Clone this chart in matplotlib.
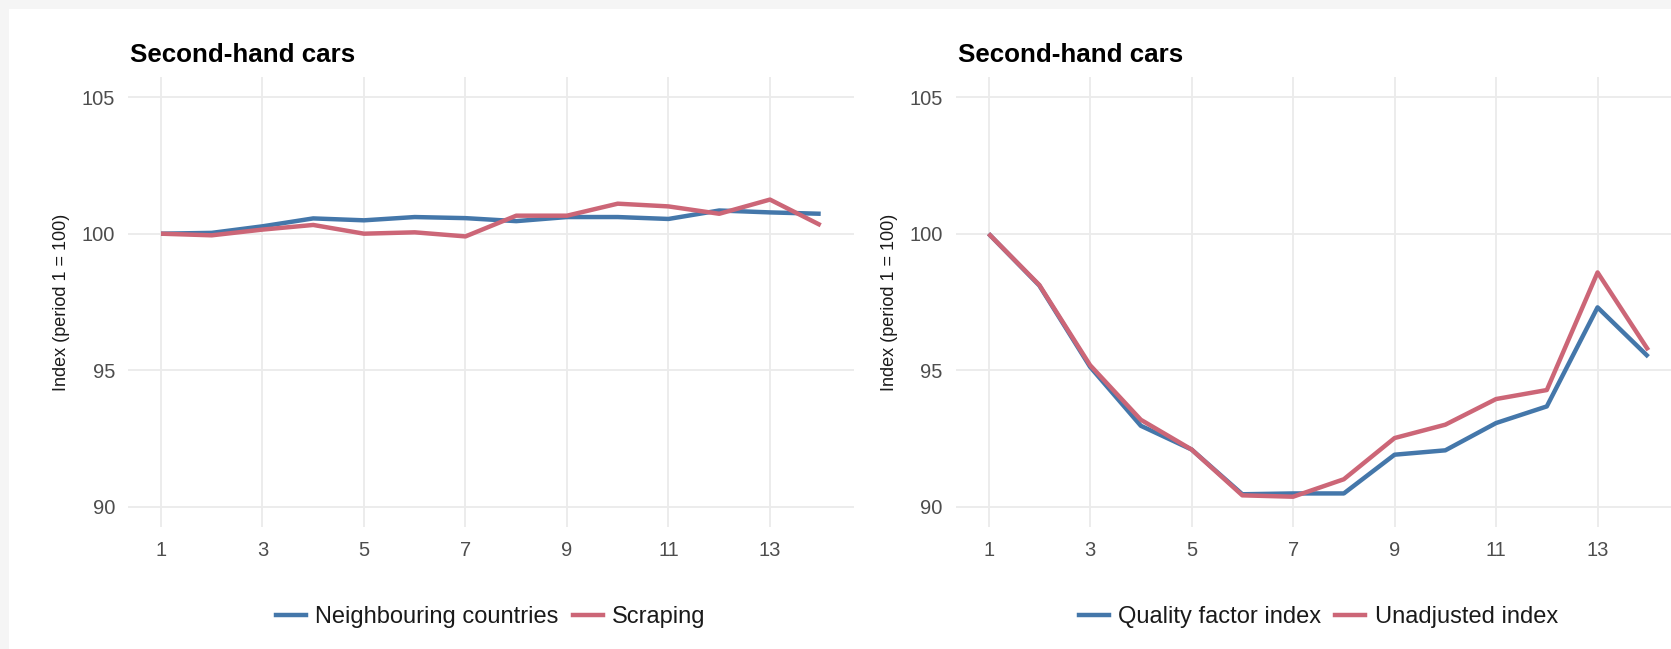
import matplotlib
matplotlib.use("Agg")
import matplotlib.pyplot as plt
from matplotlib.patches import Rectangle
from matplotlib.lines import Line2D

plt.rcParams['font.family'] = ['Liberation Sans', 'DejaVu Sans']

# ---------------- data ----------------
periods = list(range(1, 15))
x_ticks = [1, 3, 5, 7, 9, 11, 13]
y_ticks = [90, 95, 100, 105]

neighbouring = [100.0, 100.03, 100.27, 100.56, 100.49, 100.61, 100.57,
                100.46, 100.61, 100.61, 100.54, 100.85, 100.78, 100.73]
scraping = [100.0, 99.94, 100.15, 100.32, 100.0, 100.05, 99.90,
            100.66, 100.66, 101.10, 101.00, 100.73, 101.25, 100.31]

quality_factor = [100.0, 98.1, 95.12, 92.96, 92.09, 90.45, 90.48,
                  90.48, 91.9, 92.06, 93.06, 93.67, 97.3, 95.49]
unadjusted = [100.0, 98.12, 95.18, 93.18, 92.09, 90.41, 90.36,
              91.0, 92.51, 93.0, 93.94, 94.27, 98.58, 95.73]

title_text = "Second-hand cars"
ylabel_text = "Index (period 1 = 100)"

BLUE = "#4477AA"
RED = "#CC6677"
GRID = "#EBEBEB"

W, H = 1671, 649
fig = plt.figure(figsize=(W / 100, H / 100), dpi=100)
fig.patch.set_facecolor("white")

# light grey frame strips (top and left)
fig.patches.append(Rectangle((0, 1 - 9 / H), 1, 9 / H, transform=fig.transFigure,
                             facecolor="#F5F5F5", edgecolor="none", zorder=0))
fig.patches.append(Rectangle((0, 0), 9 / W, 1, transform=fig.transFigure,
                             facecolor="#F5F5F5", edgecolor="none", zorder=0))

ax_w = 725.7 / W
ax_h = 450.2 / H
ax_b = 122 / H
lefts = [128 / W, 955.6 / W]

panels = [
    (neighbouring, scraping, "Neighbouring countries", "Scraping"),
    (quality_factor, unadjusted, "Quality factor index", "Unadjusted index"),
]

for left, (s1, s2, n1, n2) in zip(lefts, panels):
    ax = fig.add_axes([left, ax_b, ax_w, ax_h])
    ax.set_facecolor("none")
    ax.plot(periods, s1, color=BLUE, lw=3.2, solid_capstyle="butt", zorder=3)
    ax.plot(periods, s2, color=RED, lw=3.2, solid_capstyle="butt", zorder=4)
    ax.set_xlim(0.35, 14.65)
    ax.set_ylim(89.25, 105.75)
    ax.set_xticks(x_ticks)
    ax.set_yticks(y_ticks)
    ax.grid(True, color=GRID, lw=1.3, zorder=0)
    ax.set_axisbelow(True)
    for sp in ax.spines.values():
        sp.set_visible(False)
    ax.tick_params(axis="both", length=0, labelsize=14.5, labelcolor="#4D4D4D")
    ax.tick_params(axis="y", pad=9.4)
    ax.tick_params(axis="x", pad=10)

    # title aligned with panel left
    fig.text(left + 2 / W, 1 - 61.5 / H, title_text, fontsize=18.7,
             fontweight="bold", color="black", ha="left", va="baseline")
    # y label
    fig.text(left - 66 / W, 1 - 302 / H, ylabel_text, rotation=90,
             fontsize=13, color="#1A1A1A", ha="center", va="center")

    handles = [Line2D([], [], color=BLUE, lw=3.2),
               Line2D([], [], color=RED, lw=3.2)]
    ax.legend(handles, [n1, n2], ncol=2, loc="center",
              bbox_to_anchor=(0.5, -0.2), frameon=False, fontsize=17,
              handlelength=1.27, handletextpad=0.4, columnspacing=0.6,
              labelcolor="#1A1A1A")

fig.savefig("out.png", dpi=100, facecolor=fig.get_facecolor())
